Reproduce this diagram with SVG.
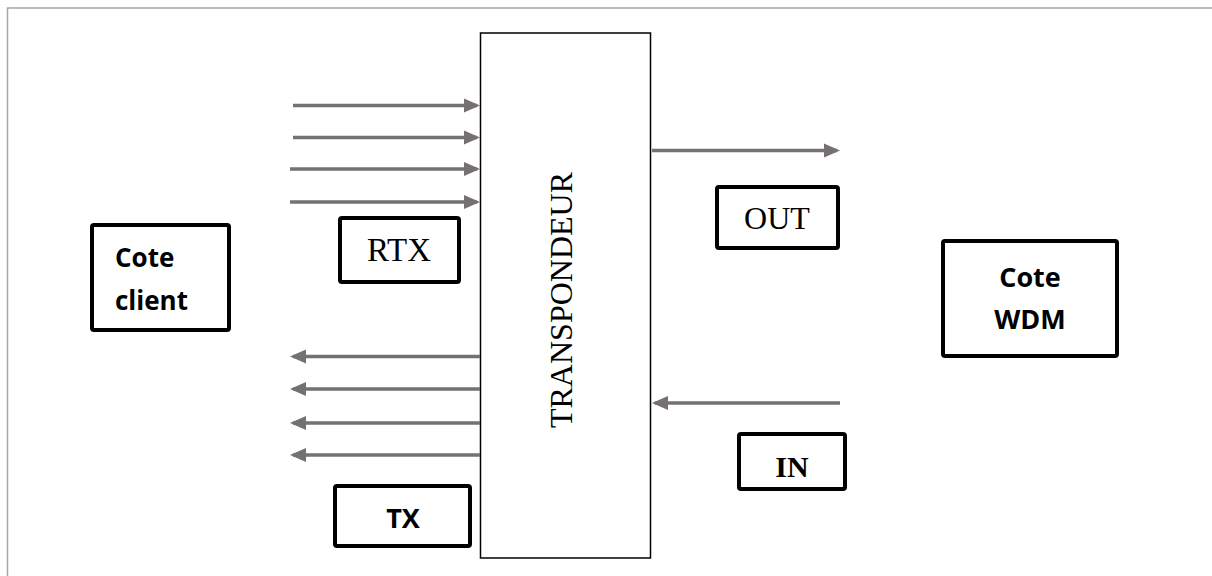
<svg xmlns="http://www.w3.org/2000/svg" width="1212" height="576" viewBox="0 0 1212 576">
<style>
.frame{fill:none;stroke:#a6a6a6;stroke-width:1.5}
.box{fill:#fff;stroke:#000;stroke-width:4}
.tp{fill:#fff;stroke:#000;stroke-width:1.5}
.conn{fill:none;stroke:#767171;stroke-width:3.5}
.serif{font-family:"Liberation Serif","Times New Roman",serif;fill:#000}
.sans{font-family:"Open Sans","Noto Sans",sans-serif;font-weight:bold;fill:#000}
</style>
<defs>
<marker id="ah" markerUnits="userSpaceOnUse" markerWidth="17" markerHeight="15" viewBox="0 0 17 15" refX="13" refY="7.5" orient="auto">
<path d="M0,0.5 L16,7.5 L0,14.5 z" fill="#767171"/>
</marker>
</defs>
<rect width="1212" height="576" fill="#fff"/>
<rect class="frame" x="7.5" y="8" width="1212" height="580"/>

<g id="transpondeur">
<rect class="tp" x="480.5" y="33" width="170" height="525"/>
<text class="serif" font-size="32" text-anchor="middle" transform="translate(572,300) rotate(-90)">TRANSPONDEUR</text>
</g>

<g id="connectors">
<line class="conn" x1="293" y1="105.5" x2="477" y2="105.5" marker-end="url(#ah)"/>
<line class="conn" x1="293" y1="137.5" x2="477" y2="137.5" marker-end="url(#ah)"/>
<line class="conn" x1="290" y1="169" x2="477" y2="169" marker-end="url(#ah)"/>
<line class="conn" x1="290" y1="202" x2="477" y2="202" marker-end="url(#ah)"/>
<line class="conn" x1="480" y1="356.5" x2="293" y2="356.5" marker-end="url(#ah)"/>
<line class="conn" x1="480" y1="389" x2="293" y2="389" marker-end="url(#ah)"/>
<line class="conn" x1="480" y1="423" x2="293" y2="423" marker-end="url(#ah)"/>
<line class="conn" x1="480" y1="455" x2="293" y2="455" marker-end="url(#ah)"/>
<line class="conn" x1="652" y1="150.5" x2="837" y2="150.5" marker-end="url(#ah)"/>
<line class="conn" x1="840" y1="403" x2="655" y2="403" marker-end="url(#ah)"/>
</g>

<g id="cote-client">
<rect class="box" x="92" y="225" width="137" height="105" rx="2"/>
<text class="sans" font-size="26" x="115" y="267">Cote</text>
<text class="sans" font-size="26" x="115" y="310">client</text>
</g>

<g id="rtx">
<rect class="box" x="340" y="218" width="119" height="64" rx="2"/>
<text class="serif" font-size="33" text-anchor="middle" x="399" y="261">RTX</text>
</g>

<g id="tx">
<rect class="box" x="335" y="486" width="135" height="60" rx="2"/>
<text class="sans" font-size="27" text-anchor="middle" x="403" y="528">TX</text>
</g>

<g id="out">
<rect class="box" x="717" y="187" width="121" height="61" rx="2"/>
<text class="serif" font-size="32" text-anchor="middle" x="777" y="229">OUT</text>
</g>

<g id="in">
<rect class="box" x="739" y="434" width="106" height="55" rx="2"/>
<text class="serif" font-size="30" font-weight="bold" text-anchor="middle" x="792" y="477">IN</text>
</g>

<g id="cote-wdm">
<rect class="box" x="943" y="241" width="174" height="115" rx="2"/>
<text class="sans" font-size="27" text-anchor="middle" x="1030" y="287">Cote</text>
<text class="sans" font-size="27" text-anchor="middle" x="1030" y="329">WDM</text>
</g>
</svg>
